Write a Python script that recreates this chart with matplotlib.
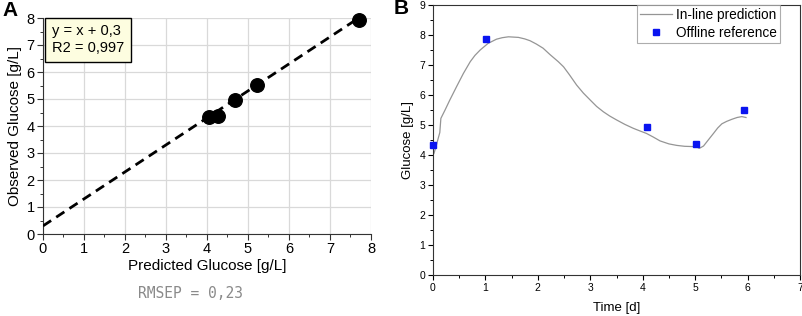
import matplotlib
matplotlib.use("Agg")
import matplotlib.pyplot as plt
from matplotlib.ticker import MultipleLocator

plt.rcParams['font.family'] = ['Liberation Sans', 'DejaVu Sans']

# Panel A data
pred_glucose = [4.04, 4.28, 4.68, 5.22, 7.70]
obs_glucose = [4.32, 4.38, 4.97, 5.53, 7.91]
fit_x = [0.0, 7.75]
fit_slope = 1.0
fit_intercept = 0.3
fit_text = "y = x + 0,3\nR2 = 0,997"
rmsep_text = "RMSEP = 0,23"

# Panel B data
time_d = [0.0, 0.02, 0.06, 0.10, 0.13, 0.15, 0.23, 0.32, 0.45, 0.58, 0.71, 0.8, 0.9, 1.05,
          1.21, 1.32, 1.44, 1.63, 1.75, 1.85, 1.97, 2.1, 2.23, 2.39, 2.49, 2.6, 2.74,
          2.87, 3.0, 3.12, 3.25, 3.37, 3.5, 3.66, 3.82, 3.95, 4.07, 4.2, 4.33, 4.5,
          4.65, 4.8, 4.97, 5.03, 5.08, 5.16, 5.25, 5.35, 5.43, 5.51, 5.60, 5.70,
          5.8, 5.89, 5.97]
inline_pred = [4.0, 4.06, 4.3, 4.56, 4.75, 5.22, 5.5, 5.83, 6.28, 6.72, 7.11, 7.32, 7.5,
               7.72, 7.86, 7.91, 7.94, 7.92, 7.87, 7.81, 7.7, 7.56, 7.35, 7.11, 6.94,
               6.68, 6.33, 6.06, 5.83, 5.62, 5.44, 5.3, 5.17, 5.02, 4.89, 4.8, 4.72,
               4.6, 4.47, 4.37, 4.32, 4.29, 4.28, 4.27, 4.22, 4.3, 4.5, 4.72, 4.9, 5.04,
               5.12, 5.19, 5.25, 5.28, 5.25]
offline_time = [0.0, 1.02, 4.08, 5.01, 5.93]
offline_glucose = [4.33, 7.88, 4.95, 4.38, 5.5]

fig = plt.figure(figsize=(8.03, 3.16), dpi=100)

# ---------- Panel A ----------
axA = fig.add_axes([43/803, 1-234/316, 328/803, 216/316])
axA.plot(fit_x, [fit_slope*x + fit_intercept for x in fit_x], ls=(0, (3.5, 2.2)),
         color='black', lw=2.0, zorder=3)
axA.scatter(pred_glucose, obs_glucose, s=95, color='black', zorder=4, clip_on=False)
axA.set_xlim(0, 8)
axA.set_ylim(0, 8)
axA.xaxis.set_major_locator(MultipleLocator(1))
axA.yaxis.set_major_locator(MultipleLocator(1))
axA.xaxis.set_minor_locator(MultipleLocator(0.5))
axA.yaxis.set_minor_locator(MultipleLocator(0.5))
axA.grid(True, which='major', color='#d9d9d9', lw=0.9)
axA.set_axisbelow(True)
for s in ['top', 'right']:
    axA.spines[s].set_visible(False)
for s in ['left', 'bottom']:
    axA.spines[s].set_color('#333333')
axA.tick_params(which='major', length=4, width=0.8, labelsize=10.5, colors='#333333',
                labelcolor='black', pad=2)
axA.tick_params(which='minor', length=2.5, width=0.7, colors='#333333')
axA.set_xlabel("Predicted Glucose [g/L]", fontsize=11, labelpad=2)
axA.set_ylabel("Observed Glucose [g/L]", fontsize=11, labelpad=3)
axA.text(0.22, 7.76, fit_text, fontsize=10.5, va='top', ha='left', linespacing=1.25,
         bbox=dict(boxstyle='square,pad=0.45', facecolor='#fdfde0', edgecolor='black', lw=1.0),
         zorder=5)
fig.text(191/803, 1-293/316, rmsep_text, family='DejaVu Sans Mono', fontsize=10.5,
         color='#8a8a8a', ha='center', va='center')
fig.text(2/803, 1-10/316, "A", fontsize=15, fontweight='bold', ha='left', va='center')

# ---------- Panel B ----------
axB = fig.add_axes([433/803, 1-275/316, 367/803, 270/316])
axB.plot(time_d, inline_pred, color='#959595', lw=0.9, label='In-line prediction')
axB.plot(offline_time, offline_glucose, ls='none', marker='s', ms=4.5, color='#0a14f0',
         label='Offline reference', clip_on=False, zorder=4)
axB.set_xlim(0, 7)
axB.set_ylim(0, 9)
axB.xaxis.set_major_locator(MultipleLocator(1))
axB.yaxis.set_major_locator(MultipleLocator(1))
axB.xaxis.set_minor_locator(MultipleLocator(0.5))
axB.yaxis.set_minor_locator(MultipleLocator(0.5))
for s in axB.spines.values():
    s.set_color('#333333')
    s.set_linewidth(0.8)
axB.tick_params(which='major', length=3.5, width=0.8, labelsize=7.5, pad=2)
axB.tick_params(which='minor', length=2, width=0.7)
axB.set_xlabel("Time [d]", fontsize=9.5, labelpad=7)
axB.set_ylabel("Glucose [g/L]", fontsize=9.5, labelpad=4)
leg = axB.legend(loc='upper right', bbox_to_anchor=((780-433)/367, 1.0), fontsize=9.8,
                 frameon=True, fancybox=False, edgecolor='#999999', borderaxespad=0,
                 handlelength=2.4, borderpad=0.2, labelspacing=0.3, handletextpad=0.3)
leg.get_frame().set_linewidth(0.8)
fig.text(394/803, 1-9/316, "B", fontsize=15, fontweight='bold', ha='left', va='center')

fig.savefig("out.png", dpi=100)
